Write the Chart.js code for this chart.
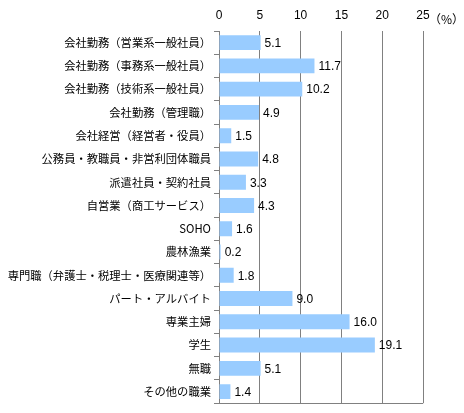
<!DOCTYPE html>
<html>
<head>
<meta charset="utf-8">
<script src="https://cdn.jsdelivr.net/npm/chart.js@4"></script>
<style>
  html, body { margin: 0; padding: 0; background: #fff; }
  #wrap { width: 464px; height: 413px; }
</style>
</head>
<body>
<div id="wrap"><canvas id="bar-chart" width="464" height="413"></canvas></div>
<script>
// occupation categories and share (%)
var categories = [
  "会社勤務（営業系一般社員）",
  "会社勤務（事務系一般社員）",
  "会社勤務（技術系一般社員）",
  "会社勤務（管理職）",
  "会社経営（経営者・役員）",
  "公務員・教職員・非営利団体職員",
  "派遣社員・契約社員",
  "自営業（商工サービス）",
  "SOHO",
  "農林漁業",
  "専門職（弁護士・税理士・医療関連等）",
  "パート・アルバイト",
  "専業主婦",
  "学生",
  "無職",
  "その他の職業"
];
var shares = [5.1, 11.7, 10.2, 4.9, 1.5, 4.8, 3.3, 4.3, 1.6, 0.2, 1.8, 9.0, 16.0, 19.1, 5.1, 1.4];
var xTicks = [0, 5, 10, 15, 20, 25];

var jpFont = '"Noto Sans CJK JP", sans-serif';
var numFont = '"Liberation Sans", Arial, sans-serif';

// value labels, bottom frame line and the (%) unit
var extras = {
  id: "extras",
  afterDatasetsDraw: function (chart) {
    var ctx = chart.ctx;
    var meta = chart.getDatasetMeta(0);
    ctx.save();
    ctx.fillStyle = "#000";
    ctx.font = "12px " + numFont;
    ctx.textAlign = "left";
    ctx.textBaseline = "middle";
    meta.data.forEach(function (bar, i) {
      ctx.fillText(shares[i].toFixed(1), bar.x + 4, bar.y + 1);
    });
    var a = chart.chartArea;
    ctx.strokeStyle = "#808080";
    ctx.lineWidth = 1;
    ctx.beginPath();
    ctx.moveTo(a.left, Math.round(a.bottom) + 0.5);
    ctx.lineTo(a.right, Math.round(a.bottom) + 0.5);
    ctx.stroke();
    ctx.font = "12px " + jpFont;
    ctx.fillText("（%）", 429, 19);
    ctx.restore();
  }
};

var ctx = document.getElementById("bar-chart").getContext("2d");
var chart = new Chart(ctx, {
  type: "bar",
  data: {
    labels: categories,
    datasets: [{
      data: shares,
      backgroundColor: "#99CCFF",
      borderWidth: 0,
      categoryPercentage: 1,
      barPercentage: 0.64
    }]
  },
  options: {
    indexAxis: "y",
    responsive: false,
    animation: false,
    layout: { padding: { left: 0, right: 41, top: 0, bottom: 5 } },
    plugins: { legend: { display: false }, tooltip: { enabled: false } },
    scales: {
      x: {
        position: "top",
        min: 0,
        max: 25,
        afterBuildTicks: function (s) { s.ticks = xTicks.map(function (v) { return { value: v }; }); },
        afterFit: function (s) { s.height = 31; },
        grid: { color: "#808080", drawTicks: false },
        border: { display: false },
        ticks: { color: "#000", padding: 8, font: { size: 12, family: numFont } }
      },
      y: {
        afterFit: function (s) { s.width = 219; },
        grid: { offset: true, drawOnChartArea: false, tickLength: 5, color: "#808080" },
        border: { display: true, color: "#808080" },
        ticks: { color: "#000", padding: 3, font: { size: 11.3, family: jpFont } }
      }
    }
  },
  plugins: [extras]
});
</script>
</body>
</html>
